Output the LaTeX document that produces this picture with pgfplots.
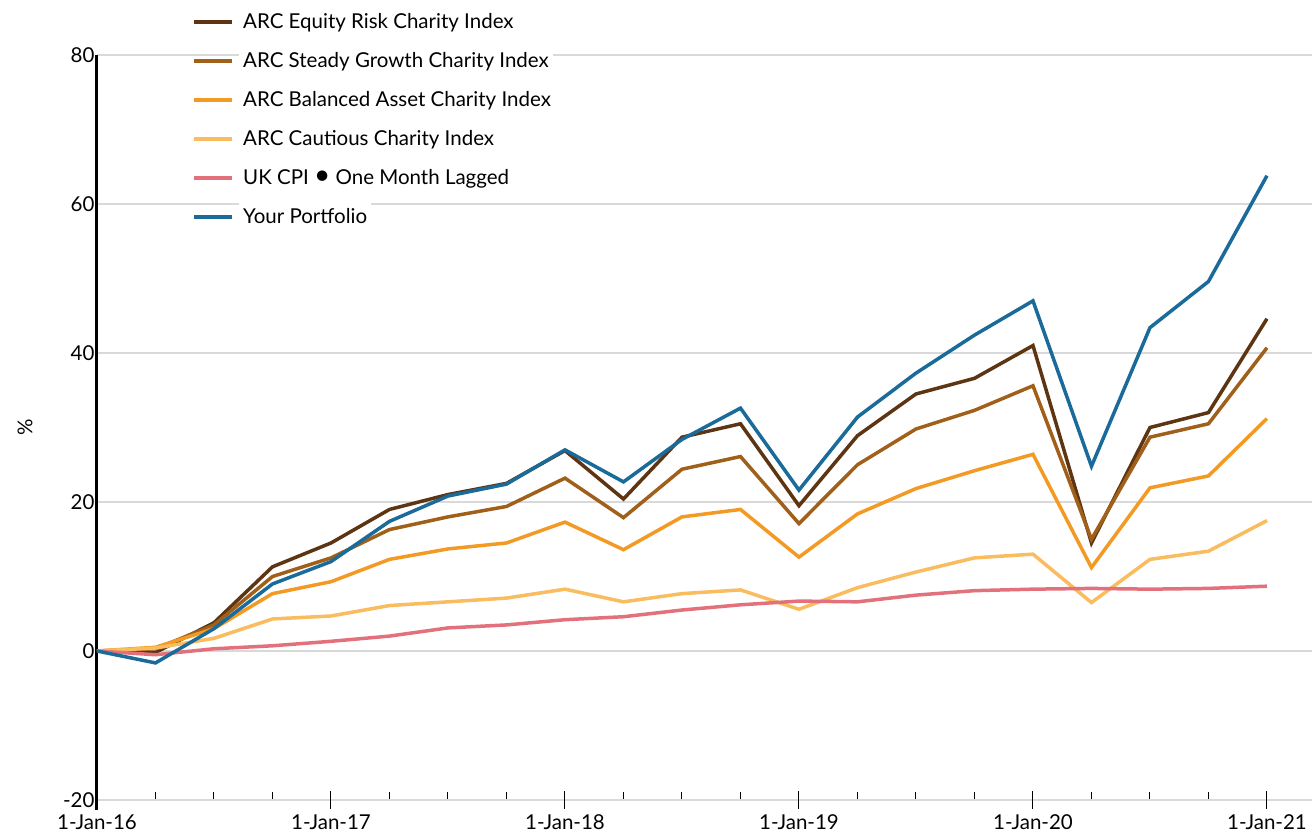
\documentclass[border=0pt]{standalone}
\usepackage{fontspec}
\setmainfont{Lato}
\usepackage{pgfplots}
\usepackage{pgfplotstable}
\pgfplotsset{compat=1.18}
\definecolor{cEq}{HTML}{5E3512}
\definecolor{cSg}{HTML}{A0601A}
\definecolor{cBa}{HTML}{F39A24}
\definecolor{cCa}{HTML}{F9BC5E}
\definecolor{cCpi}{HTML}{E2717B}
\definecolor{cPf}{HTML}{1A6A9A}
\definecolor{cGrid}{HTML}{D9D9D9}
\pgfplotstableread{
q eq sg ba ca cpi pf
0 0 0 0 0 0 0
1 -0.2 0.3 0.5 0.4 -0.5 -1.6
2 3.8 3.5 3.0 1.7 0.3 3.0
3 11.3 10.0 7.7 4.3 0.7 9.0
4 14.5 12.5 9.3 4.7 1.3 12.0
5 19.0 16.3 12.3 6.1 2.0 17.4
6 21.0 18.0 13.7 6.6 3.1 20.8
7 22.5 19.4 14.5 7.1 3.5 22.4
8 26.9 23.2 17.3 8.3 4.2 27.0
9 20.4 17.9 13.6 6.6 4.6 22.7
10 28.7 24.4 18.0 7.7 5.5 28.4
11 30.5 26.1 19.0 8.2 6.2 32.6
12 19.5 17.1 12.6 5.6 6.7 21.6
13 28.9 25.0 18.4 8.5 6.6 31.4
14 34.5 29.8 21.8 10.6 7.5 37.3
15 36.6 32.3 24.2 12.5 8.1 42.4
16 41.0 35.6 26.4 13.0 8.3 47.0
17 14.5 15.0 11.2 6.5 8.4 24.8
18 30.0 28.7 21.9 12.3 8.3 43.4
19 32.0 30.5 23.5 13.4 8.4 49.6
20 44.6 40.7 31.2 17.5 8.7 63.8
}\data
\begin{document}
\begin{tikzpicture}[font=\fontsize{20.5bp}{24bp}\selectfont]
\begin{axis}[
  scale only axis, width=1215bp, height=745bp,
  xmin=0, xmax=20.77, ymin=-20, ymax=80,
  axis x line*=bottom, axis y line*=left,
  x axis line style={cGrid, line width=2bp},
  y axis line style={black, line width=3bp, shorten <=-10bp},
  ymajorgrids, grid style={cGrid, line width=1.5bp},
  ytick={-20,0,20,40,60,80},
  yticklabels={-20,0,20,40,60,80},
  ytick style={draw=none},
  yticklabel style={xshift=1bp},
  xtick={0,...,20}, xticklabels={},
  xtick style={black, line width=1bp},
  tick align=inside, major tick length=8bp,
  extra x ticks={0,4,8,12,16,20},
  extra x tick labels={1-Jan-16,1-Jan-17,1-Jan-18,1-Jan-19,1-Jan-20,1-Jan-21},
  extra x tick style={tick align=center, major tick length=17bp, grid=none,
    xticklabel style={yshift=-3bp}},
  ylabel={\%},
  ylabel style={at={(axis description cs:-0.0593,0.5)}, anchor=center},
  legend style={at={(axis description cs:0.0782,1.0705)}, anchor=north west,
    draw=none, fill=none, inner sep=0pt, row sep=0pt, column sep=5bp,
    nodes={fill=white, minimum height=39bp, inner xsep=4bp, inner ysep=0pt}},
  legend cell align=left,
  legend image code/.code={\draw[#1, line width=4bp] (0bp,0bp) -- (38bp,0bp);},
  every axis plot/.append style={line width=3.5bp, line join=miter},
]
\addplot[cEq] table[x=q,y=eq]{\data};
\addlegendentry{ARC Equity Risk Charity Index}
\addplot[cSg] table[x=q,y=sg]{\data};
\addlegendentry{ARC Steady Growth Charity Index}
\addplot[cBa] table[x=q,y=ba]{\data};
\addlegendentry{ARC Balanced Asset Charity Index}
\addplot[cCa] table[x=q,y=ca]{\data};
\addlegendentry{ARC Cautious Charity Index}
\addplot[cCpi] table[x=q,y=cpi]{\data};
\addlegendentry{UK CPI {\fontsize{28bp}{24bp}\selectfont\textbullet} One Month Lagged}
\addplot[cPf] table[x=q,y=pf]{\data};
\addlegendentry{Your Portfolio}
\end{axis}
\pgfresetboundingbox
\useasboundingbox (-97bp,-34bp) rectangle (1215bp,800bp);
\end{tikzpicture}
\end{document}
